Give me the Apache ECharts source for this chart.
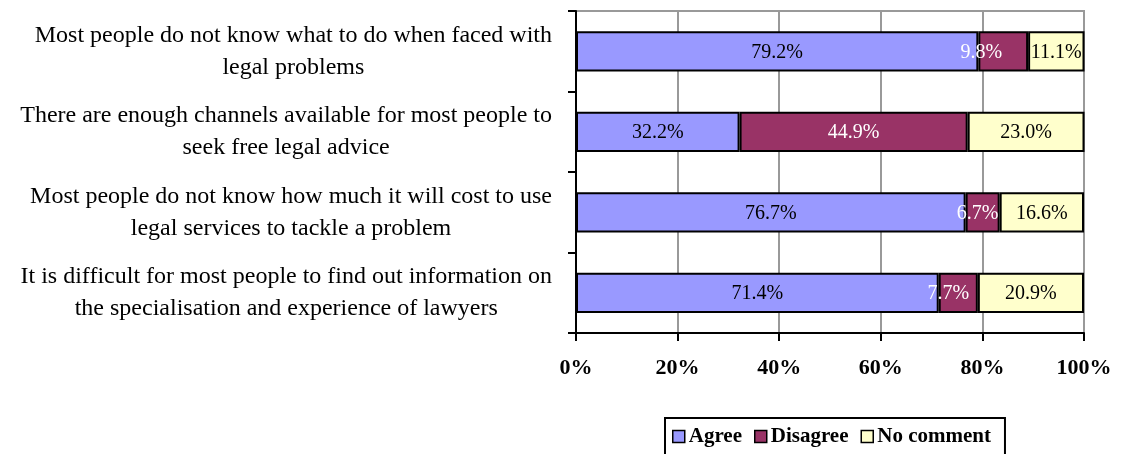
<!DOCTYPE html>
<html>
<head>
<meta charset="utf-8">
<script src="https://cdn.jsdelivr.net/npm/echarts@6/dist/echarts.min.js"></script>
<style>
html,body{margin:0;padding:0;background:#fff;}
#chart{width:1121px;height:454px;}
</style>
</head>
<body>
<div id="chart"></div>
<script>
const categories = [
  "Most people do not know what to do when faced with\nlegal problems",
  "There are enough channels available for most people to\nseek free legal advice",
  "Most people do not know how much it will cost to use\nlegal services to tackle a problem",
  "It is difficult for most people to find out information on\nthe specialisation and experience of lawyers"
];
const seriesNames = ["Agree", "Disagree", "No comment"];
const agree = [79.2, 32.2, 76.7, 71.4];
const disagree = [9.8, 44.9, 6.7, 7.7];
const noComment = [11.1, 23.0, 16.6, 20.9];
const xTicks = [0, 20, 40, 60, 80, 100];
// label nudges (style only) for the Disagree labels as drawn in the reference
const disagreeLabelShift = [-22, 0, -5, -10];

const FONT = "'Liberation Serif', 'Times New Roman', serif";
const colors = ["#9999FF", "#993366", "#FFFFCC"];

function mkSeries(name, values, color, labelColor, shifts) {
  return {
    name: name,
    type: 'bar',
    stack: 'total',
    barWidth: '50%',
    itemStyle: { color: color, borderColor: '#000', borderWidth: 2 },
    label: {
      show: true,
      position: 'inside',
      color: labelColor,
      fontFamily: FONT,
      fontSize: 20,
      offset: [0, 1],
      formatter: p => Number(p.value).toFixed(1) + '%'
    },
    data: values.map((v, i) => shifts ? { value: v, label: { offset: [shifts[i], 1] } } : v)
  };
}

const chart = echarts.init(document.getElementById('chart'));
chart.setOption({
  animation: false,
  backgroundColor: '#fff',
  grid: { left: 576, right: 37, top: 11, bottom: 121, show: true, borderColor: '#999', borderWidth: 2, containLabel: false },
  xAxis: {
    type: 'value',
    min: xTicks[0],
    max: xTicks[xTicks.length - 1],
    interval: 20,
    axisLine: { show: true, lineStyle: { color: '#000', width: 2 } },
    axisTick: { show: true, length: 8, lineStyle: { color: '#000', width: 2 } },
    splitLine: { show: true, lineStyle: { color: '#999', width: 2 } },
    axisLabel: {
      margin: 24,
      color: '#000',
      fontFamily: FONT,
      fontWeight: 'bold',
      fontSize: 22,
      formatter: '{value}%'
    }
  },
  yAxis: {
    type: 'category',
    inverse: true,
    data: categories,
    axisLine: { show: true, lineStyle: { color: '#000', width: 2 } },
    axisTick: { show: true, length: 8, lineStyle: { color: '#000', width: 2 } },
    splitLine: { show: false },
    axisLabel: {
      margin: 24,
      color: '#000',
      formatter: v => v.split('\n').map(l => '{c|' + l + '}').join('\n'),
      rich: {
        c: { align: 'center', fontFamily: FONT, fontSize: 24, lineHeight: 32, color: '#000' }
      }
    }
  },
  legend: {
    data: seriesNames,
    left: 665,
    top: 418,
    orient: 'horizontal',
    padding: [8, 14, 20, 7],
    borderColor: '#000',
    borderWidth: 2,
    itemGap: 12,
    itemWidth: 12,
    itemHeight: 12,
    icon: 'rect',
    itemStyle: { borderColor: '#000', borderWidth: 1.5 },
    textStyle: { fontFamily: FONT, fontWeight: 'bold', fontSize: 21, color: '#000', padding: [0, 0, 0, -1] }
  },
  series: [
    mkSeries(seriesNames[0], agree, colors[0], '#000', null),
    mkSeries(seriesNames[1], disagree, colors[1], '#fff', disagreeLabelShift),
    mkSeries(seriesNames[2], noComment, colors[2], '#000', null)
  ]
});
</script>
</body>
</html>
